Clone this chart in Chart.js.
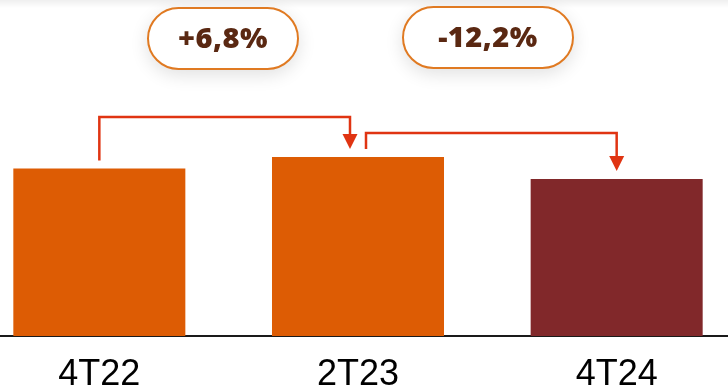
<!DOCTYPE html>
<html>
<head>
<meta charset="utf-8">
<script src="https://cdn.jsdelivr.net/npm/chart.js@4.4.1/dist/chart.umd.min.js"></script>
<style>
  html, body { margin: 0; padding: 0; width: 728px; height: 388px; overflow: hidden; background: #fff; }
  .topfade { position: absolute; left: 0; top: 0; width: 728px; height: 8px; background: linear-gradient(#efefef, rgba(255,255,255,0)); }
  .wrap { position: absolute; left: -30px; top: 0; width: 776px; height: 388px; }
  .pill {
    position: absolute; box-sizing: border-box; height: 63px;
    border: 2px solid #e07a22; border-radius: 32px; background: #fff;
    box-shadow: 0 5px 18px rgba(0,0,0,0.12);
    display: flex; align-items: center; justify-content: center;
    font-family: "Open Sans", sans-serif; font-weight: 800; font-size: 29px;
    color: #5a2812; padding-bottom: 5px; letter-spacing: 0.5px;
  }
</style>
</head>
<body>
<div class="topfade"></div>
<div class="wrap"><canvas id="myChart"></canvas></div>
<div class="pill" id="pill0" style="left:147px; top:7px; width:152px;"></div>
<div class="pill" id="pill1" style="left:402px; top:6px; width:172px;"></div>
<script>
// periods and bar values (index, 4T22 = 100)
const periods = ['4T22', '2T23', '4T24'];
const values = [100, 106.8, 93.8];
const barColors = ['#dd5c04', '#dd5c04', '#81282a'];
// variation labels between bars
const changes = ['+6,8%', '-12,2%'];
const arrowPairs = [[0, 1], [1, 2]];

const arrowColor = '#e03412';

changes.forEach((t, i) => { document.getElementById('pill' + i).textContent = t; });

// arrow offsets: start/end x shift, rise above the highest bar top
const arrowStyle = [
  { dx0: 0, dx1: -8, rise: 40 },
  { dx0: 8, dx1: 0, rise: 24 },
];

const arrowsPlugin = {
  id: 'arrows',
  afterDatasetsDraw(chart) {
    const ctx = chart.ctx;
    const bars = chart.getDatasetMeta(0).data;
    ctx.save();
    ctx.strokeStyle = arrowColor;
    ctx.fillStyle = arrowColor;
    ctx.lineWidth = 2.5;
    arrowPairs.forEach(([a, b], i) => {
      const st = arrowStyle[i];
      const from = bars[a], to = bars[b];
      const topMin = Math.min(...bars.map((el) => el.y));
      const sx = from.x + st.dx0, sy = from.y - 8;
      const ex = to.x + st.dx1, tip = to.y - 8;
      const ly = topMin - st.rise;
      ctx.beginPath();
      ctx.moveTo(sx, sy);
      ctx.lineTo(sx, ly);
      ctx.lineTo(ex, ly);
      ctx.lineTo(ex, tip - 14);
      ctx.stroke();
      ctx.beginPath();
      ctx.moveTo(ex - 7.5, tip - 15);
      ctx.lineTo(ex + 7.5, tip - 15);
      ctx.lineTo(ex, tip);
      ctx.closePath();
      ctx.fill();
    });
    ctx.restore();
  },
};

const ctx = document.getElementById('myChart').getContext('2d');
const myChart = new Chart(ctx, {
  type: 'bar',
  data: {
    labels: periods,
    datasets: [
      {
        data: values,
        backgroundColor: barColors,
        borderWidth: 0,
        categoryPercentage: 1,
        barPercentage: 0.665,
      },
    ],
  },
  options: {
    responsive: true,
    maintainAspectRatio: false,
    animation: false,
    layout: { padding: 0 },
    plugins: { legend: { display: false }, tooltip: { enabled: false } },
    scales: {
      x: {
        grid: { display: false, drawTicks: false },
        border: { display: true, color: '#1a1a1a', width: 2 },
        ticks: {
          color: '#000',
          padding: 17,
          font: { family: 'Liberation Sans, Arial, sans-serif', size: 36 },
        },
        afterFit: (s) => { s.height = 52; },
      },
      y: { display: false, min: 0, max: 200.6 },
    },
  },
  plugins: [arrowsPlugin],
});
</script>
</body>
</html>
